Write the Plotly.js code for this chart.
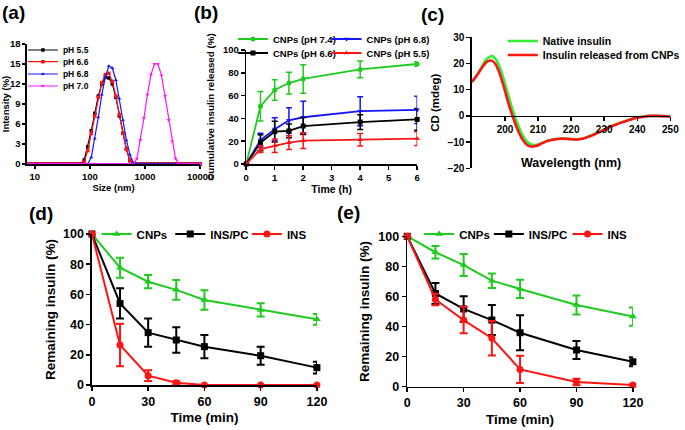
<!DOCTYPE html>
<html><head><meta charset="utf-8">
<script src="https://cdn.plot.ly/plotly-3.0.1.min.js"></script>
<style>html,body{margin:0;padding:0;background:#fff}#chart{width:685px;height:430px}</style>
</head><body><div id="chart"></div>
<script>
// ---------- (a) DLS size distribution ----------
const sizeNm = [7.531, 8.721, 10.1, 11.7, 13.54, 15.69, 18.17, 21.04, 24.36, 28.21, 32.67, 37.84, 43.82, 50.75, 58.77, 68.06, 78.82, 91.28, 105.7, 122.4, 141.8, 164.2, 190.1, 220.2, 255.0, 295.3, 342.0, 396.1, 458.7, 531.2, 615.1, 712.4, 825.0, 955.4, 1106, 1281, 1484, 1718, 1990, 2305, 2669, 3091, 3580, 4145, 4801, 5560, 6439, 7456, 8635, 10000];
const intPH55 = [0,0,0,0,0,0,0,0,0,0,0,0,0,0,0, 0,0.6,2.6,5.0,7.6,10.2,12.0,13.0,12.9,12.0,10.0,7.2,4.6,2.2,0.5, 0,0,0,0,0,0,0,0,0,0,0,0,0,0,0,0,0,0,0,0];
const intPH66 = [0,0,0,0,0,0,0,0,0,0,0,0,0,0,0, 0,0.3,2.0,4.6,7.2,10.0,12.2,13.4,13.6,12.4,10.2,7.4,4.6,2.2,0.6, 0,0,0,0,0,0,0,0,0,0,0,0,0,0,0,0,0,0,0,0];
const intPH68 = [0,0,0,0,0,0,0,0,0,0,0,0,0,0,0, 0,0,0,1.0,3.8,7.0,10.4,13.0,14.7,14.4,12.6,9.8,6.6,3.6,1.4,0.2,0, 0,0,0,0,0,0,0,0,0,0,0,0,0,0,0,0,0,0];
const intPH70 = [0,0,0,0,0,0,0,0,0,0,0,0,0,0,0,0,0,0,0,0,0,0,0,0,0,0,0,0,0,0,0, 0.8,3.6,6.9,10.4,13.4,15.0,15.0,13.3,10.2,6.6,3.4,0.8, 0,0,0,0,0,0,0];
const aNames = ['pH 5.5', 'pH 6.6', 'pH 6.8', 'pH 7.0'];
const aTicks = [10, 100, 1000, 10000];

// ---------- (b) cumulative release ----------
const timeH = [0, 0.5, 1, 1.5, 2, 4, 6];
const rel74 = [0, 50.7, 65, 71, 74.6, 83, 87.7];
const err74 = [0, 13, 9, 9.5, 12.5, 7.3, 2];
const rel68 = [0, 21, 30.6, 38.3, 41, 46.3, 47.5];
const err68 = [0, 6, 10, 11, 14, 12.8, 12];
const rel66 = [0, 18.7, 28.4, 29, 33.3, 36.8, 39.1];
const err66 = [0, 7, 9, 6, 7.5, 6.5, 9.5];
const rel55 = [0, 13, 16, 18.7, 20.5, 21.3, 22.2];
const err55 = [0, 3, 6, 6, 7, 5.5, 6];
const bNames = ['CNPs (pH 7.4)', 'CNPs (pH 6.8)', 'CNPs (pH 6.6)', 'CNPs (pH 5.5)'];

// ---------- (c) CD spectra ----------
const waveNm = [190,191,192,193,194,195,196,197,198,199,200,201,202,203,204,205,206,207,208,209,210,211,212,213,214,215,216,217,218,219,220,221,222,223,224,225,226,227,228,229,230,231,232,233,234,235,236,237,238,239,240,241,242,243,244,245,246,247,248,249,250];
const cdNative = [13.0,14.6,16.6,18.8,21.0,22.3,22.8,22.0,19.8,16.5,12.3,7.8,3.5,-0.3,-3.7,-6.6,-8.8,-10.2,-10.9,-11.1,-10.9,-10.4,-9.9,-9.4,-9.1,-8.9,-8.7,-8.6,-8.6,-8.7,-8.8,-8.9,-8.9,-8.7,-8.4,-8.0,-7.5,-7.0,-6.4,-5.8,-5.2,-4.6,-4.0,-3.5,-3.0,-2.5,-2.1,-1.7,-1.3,-0.9,-0.6,-0.4,-0.2,-0.1,0.0,0.0,0.0,0.0,-0.1,-0.1,-0.2];
const cdReleased = [13.0,14.6,16.4,18.3,20.0,21.0,21.1,20.0,17.5,13.8,9.5,5.0,1.0,-2.6,-5.8,-8.4,-10.2,-11.3,-11.7,-11.6,-11.2,-10.6,-10.0,-9.5,-9.2,-9.0,-8.8,-8.7,-8.7,-8.8,-8.9,-9.0,-9.0,-8.8,-8.5,-8.1,-7.6,-7.1,-6.5,-5.9,-5.3,-4.7,-4.1,-3.6,-3.1,-2.6,-2.2,-1.8,-1.4,-1.0,-0.7,-0.5,-0.3,-0.1,0.0,0.0,0.0,-0.1,-0.1,-0.2,-0.2];
const cNames = ['Native insulin', 'Insulin released from CNPs'];

// ---------- (d) and (e) remaining insulin ----------
const timeMin = [0, 15, 30, 45, 60, 90, 120];
const dCNP = [100, 77.7, 68.4, 63, 56.3, 49.7, 43.5];
const dCNPerr = [0, 6.6, 4.4, 6.6, 6.4, 4.4, 3.6];
const dPC = [100, 54, 34.7, 29.8, 25.4, 19.4, 11.5];
const dPCerr = [0, 10, 9.4, 8.4, 7.7, 6, 3.9];
const dINS = [100, 26.5, 6.2, 1.5, 0, 0, 0];
const dINSerr = [0, 14, 3.5, 1, 0, 0, 0];
const eCNP = [100, 89.4, 80.9, 70.5, 65, 54.3, 46.6];
const eCNPerr = [0, 4.1, 7.3, 4.8, 6.1, 6.3, 6];
const ePC = [100, 62, 51.7, 44.3, 35.9, 24.4, 16.6];
const ePCerr = [0, 7, 8.5, 10, 11.6, 6, 3];
const eINS = [100, 58, 44.3, 32.2, 11.5, 3.1, 1.1];
const eINSerr = [0, 3.8, 8.8, 11.5, 9, 2.2, 0.5];
const deNames = ['CNPs', 'INS/PC', 'INS'];
const minTicks = [0, 30, 60, 90, 120];

// ---------- styling ----------
const F = 'Liberation Sans, Arial, Helvetica, sans-serif';
const W = 685, H = 430;
const GREEN = '#1ecb1e', RED = '#ff1414', BLUE = '#1414ff', BLACK = '#000000', MAG = '#ff14ff';
const CGREEN = '#33ee33';

const traces = [];
let legIdx = 0;
function legName() { legIdx++; return legIdx === 1 ? 'legend' : 'legend' + legIdx; }

function dls(y, name, color, sym) {
  traces.push({x: sizeNm, y: y, name: name, type: 'scatter', mode: 'lines+markers',
    xaxis: 'x', yaxis: 'y', cliponaxis: false, legend: legName(),
    line: {color: color, width: 1.2}, marker: {color: color, symbol: sym, size: 3.5}});
}
dls(intPH55, aNames[0], BLACK, 'square');
dls(intPH66, aNames[1], RED, 'square');
dls(intPH68, aNames[2], BLUE, 'triangle-up');
dls(intPH70, aNames[3], MAG, 'triangle-down');

function rel(y, e, name, color, sym) {
  traces.push({x: timeH, y: y, name: name, type: 'scatter', mode: 'lines+markers',
    xaxis: 'x2', yaxis: 'y2', cliponaxis: false, legend: legName(),
    line: {color: color, width: 1.8}, marker: {color: color, symbol: sym, size: 5},
    error_y: {type: 'data', array: e, visible: true, color: color, thickness: 1.5, width: 3}});
}
rel(rel74, err74, bNames[0], GREEN, 'circle');
rel(rel68, err68, bNames[1], BLUE, 'triangle-down');
rel(rel66, err66, bNames[2], BLACK, 'square');
rel(rel55, err55, bNames[3], RED, 'triangle-up');

traces.push({x: waveNm, y: cdNative, name: cNames[0], type: 'scatter', mode: 'lines',
  xaxis: 'x3', yaxis: 'y3', legend: legName(), line: {color: CGREEN, width: 2.6, shape: 'spline'}});
traces.push({x: waveNm, y: cdReleased, name: cNames[1], type: 'scatter', mode: 'lines',
  xaxis: 'x3', yaxis: 'y3', legend: legName(), line: {color: RED, width: 2.6, shape: 'spline'}});

function rem(xa, ya, y, e, name, color, sym) {
  traces.push({x: timeMin, y: y, name: name, type: 'scatter', mode: 'lines+markers',
    xaxis: xa, yaxis: ya, cliponaxis: false, legend: legName(),
    line: {color: color, width: 2}, marker: {color: color, symbol: sym, size: 7},
    error_y: {type: 'data', array: e, visible: true, color: color, thickness: 2, width: 4}});
}
rem('x4', 'y4', dCNP, dCNPerr, deNames[0], GREEN, 'triangle-up');
rem('x4', 'y4', dPC, dPCerr, deNames[1], BLACK, 'square');
rem('x4', 'y4', dINS, dINSerr, deNames[2], RED, 'circle');
rem('x5', 'y5', eCNP, eCNPerr, deNames[0], GREEN, 'triangle-up');
rem('x5', 'y5', ePC, ePCerr, deNames[1], BLACK, 'square');
rem('x5', 'y5', eINS, eINSerr, deNames[2], RED, 'circle');

// layout helpers (pixel -> paper)
const px = v => v / W;
const py = v => 1 - v / H;
function ax(o) {
  return Object.assign({showline: true, linecolor: '#000', linewidth: 1.5, ticks: 'outside', ticklen: 4,
    tickwidth: 1.5, tickcolor: '#000', showgrid: false, zeroline: false, fixedrange: true,
    tickfont: {family: F, size: 9.5, color: '#000', weight: 'bold'}}, o);
}
function ttl(text, size, standoff) {
  return {text: text, font: {family: F, size: size, color: '#000', weight: 'bold'}, standoff: standoff};
}

const layout = {
  width: W, height: H, margin: {l: 0, r: 0, t: 0, b: 0}, paper_bgcolor: '#fff', plot_bgcolor: 'rgba(0,0,0,0)',
  showlegend: true, font: {family: F, color: '#000'},
  xaxis: ax({domain: [px(27), px(201)], anchor: 'y', type: 'log', range: [0.855, 4.0], tickvals: aTicks, ticktext: aTicks.map(String), ticklen: 3, title: ttl('Size (nm)', 9.5, 0)}),
  yaxis: ax({domain: [py(164), py(44)], anchor: 'x', range: [0, 18], tickvals: [0, 3, 6, 9, 12, 15, 18], ticklen: 3, title: ttl('Intensity (%)', 9.5, 0)}),
  xaxis2: ax({domain: [px(247.3), px(419)], anchor: 'y2', range: [0, 6], dtick: 1, title: ttl('Time (h)', 10.5, 2)}),
  yaxis2: ax({domain: [py(164), py(50)], anchor: 'x2', range: [0, 100], dtick: 20, title: ttl('Cumulative insulin released (%)', 9.8, 6)}),
  xaxis3: ax({domain: [px(474), px(673.3)], anchor: 'free', position: py(115.7), range: [190, 250], tickvals: [200, 210, 220, 230, 240, 250], tickfont: {family: F, size: 10, color: '#000', weight: 'bold'}}),
  yaxis3: ax({domain: [py(168.3), py(37.3)], anchor: 'x3', range: [-20, 30], dtick: 10, tickfont: {family: F, size: 10, color: '#000', weight: 'bold'}, title: ttl('CD (mdeg)', 11.5, 5)}),
  xaxis4: ax({domain: [px(92.3), px(318.3)], anchor: 'y4', range: [0, 120], tickvals: minTicks, tickfont: {family: F, size: 12.5, color: '#000', weight: 'bold'}, title: ttl('Time (min)', 13.5, 5)}),
  yaxis4: ax({domain: [py(385), py(234)], anchor: 'x4', range: [0, 100], dtick: 20, tickfont: {family: F, size: 12.5, color: '#000', weight: 'bold'}, title: ttl('Remaining insulin (%)', 13.5, 4)}),
  xaxis5: ax({domain: [px(409), px(635.7)], anchor: 'y5', range: [0, 120], tickvals: minTicks, tickfont: {family: F, size: 12.5, color: '#000', weight: 'bold'}, title: ttl('Time (min)', 13.5, 5)}),
  yaxis5: ax({domain: [py(386.7), py(236.3)], anchor: 'x5', range: [0, 100], dtick: 20, tickfont: {family: F, size: 12.5, color: '#000', weight: 'bold'}, title: ttl('Remaining insulin (%)', 13.5, 5)}),
  annotations: [
    {text: '(a)', x: px(14), y: py(13)},
    {text: '(b)', x: px(207), y: py(13)},
    {text: '(c)', x: px(434), y: py(14)},
    {text: '(d)', x: px(41), y: py(213)},
    {text: '(e)', x: px(350), y: py(212)},
    {text: 'Wavelength (nm)', x: px(573.5), y: py(163), size: 12.5}
  ].map(a => ({xref: 'paper', yref: 'paper', x: a.x, y: a.y, xanchor: 'center', yanchor: 'middle', showarrow: false,
    text: a.text, font: {family: F, size: a.size || 19, color: '#000', weight: 'bold'}}))
};

// legend placements: [text start x px, centre y px, font size]
const legendPos = [
  [63, 50, 8.5], [63, 61.7, 8.5], [63, 74, 8.5], [63, 86, 8.5],
  [274, 39, 9.5], [368, 39, 9.5], [274, 53, 9.5], [368, 53, 9.5],
  [545, 41, 10.5], [545, 55, 10.5],
  [137, 234, 11.5], [211, 234, 11.5], [288, 234, 11.5],
  [461, 234, 11.5], [531, 234, 11.5], [610, 234, 11.5]
];
legendPos.forEach((p, i) => {
  const key = i === 0 ? 'legend' : 'legend' + (i + 1);
  layout[key] = {x: px(p[0] - 40), xanchor: 'left', y: py(p[1]), yanchor: 'middle', bgcolor: 'rgba(0,0,0,0)',
    borderwidth: 0, itemclick: false, font: {family: F, size: p[2], color: '#000', weight: 'bold'}};
});

Plotly.newPlot('chart', traces, layout, {displayModeBar: false, staticPlot: true});
</script></body></html>
